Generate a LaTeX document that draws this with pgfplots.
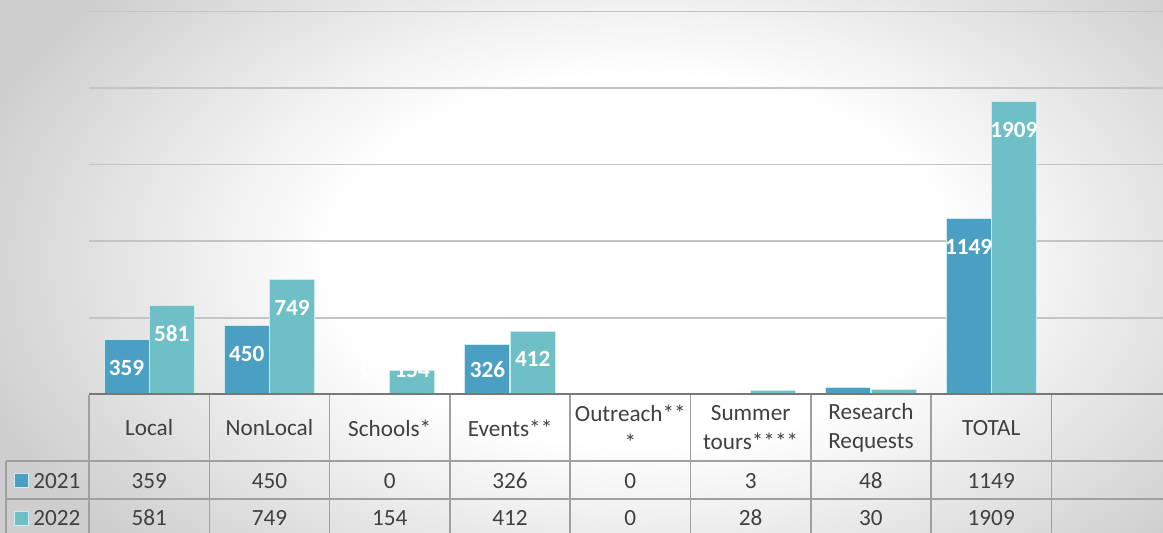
\documentclass[border=0pt]{standalone}
\usepackage{pgfplots}
\pgfplotsset{compat=1.18}
\usepackage{pgfplotstable}
\usepackage{fontspec}
\setmainfont{Carlito}
\definecolor{c21}{RGB}{75,159,195}
\definecolor{c22}{RGB}{111,191,199}
\definecolor{barline}{RGB}{205,236,240}
\definecolor{bggray}{RGB}{206,206,206}
\definecolor{gridc}{RGB}{196,196,196}
\definecolor{tabline}{RGB}{160,160,160}
\definecolor{basec}{RGB}{120,120,120}
\definecolor{txt}{RGB}{64,64,64}
\pgfdeclareradialshading{bgshade}{\pgfpoint{0bp}{0bp}}{color(0bp)=(white); color(11bp)=(white); color(25bp)=(bggray); color(50bp)=(bggray)}

\pgfplotstableread{
x v2021 v2022
0 359 581
1 450 749
2 0 154
3 326 412
4 0 0
5 3 28
6 48 30
7 1149 1909
}\datatable

\newcommand{\tabfont}{\fontsize{11.6}{14.5}\selectfont}
\newcommand{\lblfont}{\fontsize{11.6}{14.5}\selectfont\bfseries}

\begin{document}
\begin{tikzpicture}
\useasboundingbox (0,0) rectangle (581.5pt,266.5pt);
\clip (0,0) rectangle (581.5pt,266.5pt);
\begin{scope}[yshift=266.5pt, x=0.5pt, y=-0.5pt]
\fill[bggray] (0,0) rectangle (1163,533);
\shade[shading=bgshade] (640,260) ellipse [x radius=350pt, y radius=210pt];
\end{scope}

\begin{axis}[
  at={(44.5pt,69.25pt)}, anchor=south west,
  scale only axis, width=541.35pt, height=191.6pt,
  xmin=-0.5, xmax=8.5, ymin=0, ymax=2500,
  clip=false,
  axis x line*=bottom, axis y line*=left,
  y axis line style={draw=none},
  x axis line style={draw=basec, line width=1pt},
  xtick={0,...,8},
  xticklabels={Local,NonLocal,Schools*,Events**,{Outreach**\\*},{Summer\\tours****},{Research\\Requests},TOTAL,{}},
  xtick style={draw=none},
  xticklabel style={anchor=center, yshift=-16.75pt, align=center, text=txt, font=\tabfont},
  ytick={0,500,...,2500}, yticklabels={}, ytick style={draw=none},
  ymajorgrids, grid style={gridc, line width=0.75pt},
]
\addplot[ybar, bar width=22.5pt, bar shift=-11.3pt, fill=c21, draw=barline, line width=0.5pt] table[x=x, y=v2021] {\datatable};
\addplot[ybar, bar width=22.5pt, bar shift=11.3pt, fill=c22, draw=barline, line width=0.5pt] table[x=x, y=v2022] {\datatable};
% bar value labels
\addplot[draw=none, mark=none, point meta=explicit symbolic, nodes near coords={\pgfplotspointmeta}, nodes near coords align={center},
  every node near coord/.append style={anchor=center, xshift=-11.3pt, text=white, font=\lblfont, inner sep=0pt}]
  table[x=x, y expr={max(\thisrow{v2021}-183,160)}, meta=v2021] {\datatable};
\addplot[draw=none, mark=none, point meta=explicit symbolic, nodes near coords={\pgfplotspointmeta}, nodes near coords align={center},
  every node near coord/.append style={anchor=center, xshift=11.3pt, text=white, font=\lblfont, inner sep=0pt}]
  table[x=x, y expr={max(\thisrow{v2022}-183,160)}, meta=v2022] {\datatable};
% data table rows
\addplot[draw=none, mark=none, point meta=explicit symbolic, nodes near coords={\pgfplotspointmeta}, nodes near coords align={center},
  every node near coord/.append style={anchor=center, yshift=-43.1pt, text=txt, font=\tabfont, inner sep=0pt}]
  table[x=x, y expr=0, meta=v2021] {\datatable};
\addplot[draw=none, mark=none, point meta=explicit symbolic, nodes near coords={\pgfplotspointmeta}, nodes near coords align={center},
  every node near coord/.append style={anchor=center, yshift=-61.75pt, text=txt, font=\tabfont, inner sep=0pt}]
  table[x=x, y expr=0, meta=v2022] {\datatable};
\end{axis}

\begin{scope}[yshift=266.5pt, x=0.5pt, y=-0.5pt]
\foreach \k in {0,...,9} {
  \draw[tabline, line width=0.75pt] ({89+120.3*\k},395.5) -- ({89+120.3*\k},533);
}
\draw[tabline, line width=0.75pt] (6,461) -- (6,533);
\draw[tabline, line width=0.75pt] (6,461) -- (1163,461);
\draw[tabline, line width=0.75pt] (6,499) -- (1163,499);
\draw[basec, line width=1pt] (89,394.5) -- (1163,394.5);
\fill[c21, draw=barline, line width=0.4pt] (14,473.5) rectangle (28,487.5);
\fill[c22, draw=barline, line width=0.4pt] (14,511) rectangle (28,525);
\node[anchor=west, inner sep=0pt, text=txt, font=\tabfont] at (33,480.7) {2021};
\node[anchor=west, inner sep=0pt, text=txt, font=\tabfont] at (33,518) {2022};
\end{scope}
\end{tikzpicture}
\end{document}
